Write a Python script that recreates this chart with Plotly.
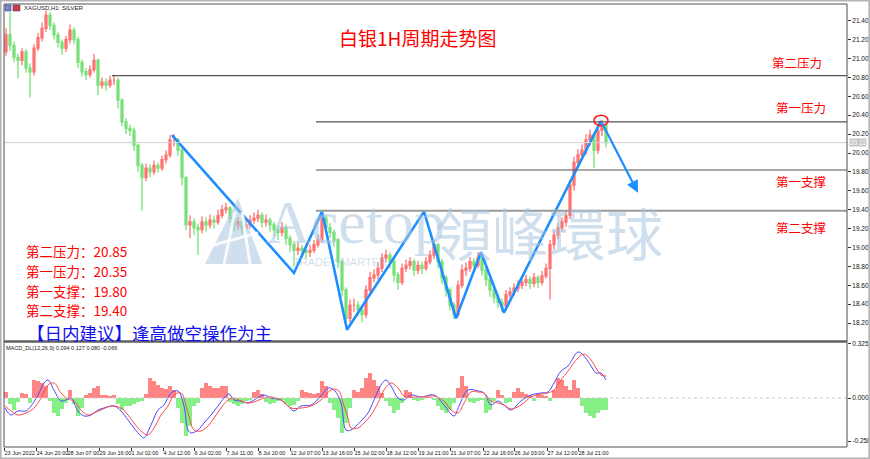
import plotly.graph_objects as go

# ---------------- data ----------------
first_open = 21.07
closes = [21.25, 21.14, 21.01, 20.98, 21.07, 20.90, 20.86, 21.11, 21.22, 21.32,
          21.46, 21.35, 21.25, 21.17, 21.11, 21.20, 21.30, 21.20, 20.96, 20.86,
          20.83, 20.88, 20.98, 20.72, 20.75, 20.72, 20.77, 20.77, 20.56, 20.33,
          20.26, 20.24, 20.08, 19.87, 19.74, 19.84, 19.80, 19.87, 19.84, 19.93,
          19.98, 20.14, 20.14, 20.03, 19.74, 19.24, 19.27, 19.21, 19.19, 19.27,
          19.24, 19.29, 19.27, 19.34, 19.40, 19.42, 19.31, 19.24, 19.27, 19.21,
          19.24, 19.29, 19.31, 19.34, 19.27, 19.29, 19.24, 19.19, 19.16, 19.21,
          19.10, 19.03, 18.97, 18.99, 18.97, 18.95, 18.97, 19.03, 19.08, 19.31,
          19.21, 19.16, 19.08, 18.85, 18.55, 18.25, 18.39, 18.39, 18.34, 18.29,
          18.55, 18.68, 18.71, 18.78, 18.89, 18.92, 18.85, 18.71, 18.63, 18.78,
          18.81, 18.85, 18.76, 18.81, 18.78, 18.85, 18.92, 19.03, 18.85, 18.68,
          18.55, 18.39, 18.29, 18.60, 18.76, 18.78, 18.85, 18.81, 18.89, 18.76,
          18.66, 18.55, 18.47, 18.42, 18.38, 18.50, 18.53, 18.57, 18.60, 18.63,
          18.66, 18.62, 18.68, 18.63, 18.70, 18.78, 19.03, 19.13, 19.21, 19.27,
          19.34, 19.66, 19.90, 19.98, 20.03, 20.14, 20.19, 20.03, 20.24, 20.30,
          20.11]
highs = [21.32, 21.49, 21.18, 21.05, 21.11, 21.10, 20.95, 21.15, 21.27, 21.38,
         21.51, 21.49, 21.38, 21.28, 21.20, 21.24, 21.36, 21.33, 21.23, 20.99,
         20.90, 20.93, 21.05, 21.00, 20.80, 20.79, 20.82, 20.83, 20.80, 20.58,
         20.37, 20.30, 20.27, 20.10, 19.90, 19.89, 19.88, 19.92, 19.90, 19.97,
         20.03, 20.19, 20.20, 20.16, 20.06, 19.76, 19.34, 19.31, 19.25, 19.33,
         19.32, 19.35, 19.33, 19.40, 19.45, 19.47, 19.44, 19.34, 19.32, 19.30,
         19.30, 19.34, 19.37, 19.40, 19.37, 19.35, 19.32, 19.27, 19.23, 19.27,
         19.24, 19.13, 19.06, 19.05, 19.03, 19.01, 19.03, 19.08, 19.14, 19.38,
         19.34, 19.26, 19.19, 19.10, 18.88, 18.58, 18.45, 18.46, 18.43, 18.38,
         18.60, 18.74, 18.77, 18.84, 18.94, 18.98, 18.95, 18.88, 18.74, 18.83,
         18.87, 18.90, 18.88, 18.86, 18.85, 18.90, 18.97, 19.08, 19.05, 18.88,
         18.71, 18.58, 18.42, 18.65, 18.82, 18.84, 18.90, 18.89, 18.95, 18.92,
         18.79, 18.69, 18.58, 18.51, 18.46, 18.55, 18.58, 18.62, 18.65, 18.68,
         18.71, 18.69, 18.73, 18.71, 18.75, 18.83, 19.08, 19.18, 19.26, 19.32,
         19.39, 19.72, 19.96, 20.04, 20.09, 20.20, 20.25, 20.22, 20.29, 20.35,
         20.32]
lows = [21.03, 21.08, 20.96, 20.79, 20.93, 20.85, 20.59, 20.82, 21.08, 21.18,
        21.28, 21.30, 21.20, 21.12, 21.04, 21.07, 21.16, 21.15, 20.90, 20.81,
        20.77, 20.80, 20.85, 20.61, 20.68, 20.66, 20.69, 20.72, 20.47, 20.28,
        20.20, 20.18, 20.02, 19.80, 19.39, 19.70, 19.74, 19.77, 19.79, 19.81,
        19.89, 19.95, 20.07, 19.97, 19.66, 19.18, 19.10, 19.13, 18.92, 19.15,
        19.17, 19.20, 19.20, 19.24, 19.31, 19.36, 19.26, 19.17, 19.19, 19.14,
        19.17, 19.20, 19.25, 19.27, 19.21, 19.22, 19.17, 19.12, 19.08, 19.12,
        19.03, 18.95, 18.80, 18.92, 18.90, 18.88, 18.90, 18.94, 19.00, 19.05,
        19.15, 19.10, 19.01, 18.78, 18.48, 18.16, 18.20, 18.32, 18.27, 18.21,
        18.25, 18.50, 18.63, 18.66, 18.74, 18.84, 18.78, 18.64, 18.55, 18.60,
        18.74, 18.77, 18.70, 18.72, 18.72, 18.75, 18.82, 18.88, 18.78, 18.61,
        18.48, 18.33, 18.24, 18.26, 18.57, 18.70, 18.74, 18.75, 18.78, 18.70,
        18.59, 18.48, 18.41, 18.36, 18.32, 18.35, 18.46, 18.49, 18.53, 18.56,
        18.59, 18.56, 18.58, 18.57, 18.60, 18.67, 18.45, 18.98, 19.09, 19.17,
        19.22, 19.30, 19.60, 19.85, 19.93, 19.98, 20.08, 19.84, 19.99, 20.18,
        20.06]

hist = [0.036, -0.036, -0.072, -0.024, 0.030, 0.024, -0.030, 0.108, 0.102, 0.090,
        0.072, -0.018, -0.090, -0.108, -0.066, -0.030, 0.048, -0.036, -0.108, -0.060,
        0.018, 0.030, 0.060, 0.072, 0.018, 0.018, 0.012, 0.018, -0.036, -0.072,
        -0.048, -0.048, -0.036, -0.024, -0.018, 0.024, 0.120, 0.102, 0.078, 0.060,
        0.054, 0.072, 0.048, -0.060, -0.150, -0.228, -0.168, -0.048, -0.030, 0.060,
        0.090, 0.072, 0.060, 0.060, 0.072, 0.072, -0.024, -0.036, -0.048, -0.036,
        -0.018, -0.012, 0.036, 0.048, 0.024, -0.024, -0.036, -0.030, -0.018, -0.012,
        -0.036, -0.048, -0.042, -0.018, 0.048, 0.036, 0.030, 0.024, 0.030, 0.102,
        0.072, -0.030, -0.072, -0.120, -0.210, -0.150, -0.060, 0.048, 0.036, 0.060,
        0.120, 0.150, 0.108, 0.072, 0.030, -0.018, -0.048, -0.090, -0.072, -0.030,
        0.048, 0.036, -0.012, -0.018, -0.012, 0.006, 0.006, -0.012, -0.048, -0.072,
        -0.090, -0.072, -0.030, 0.060, 0.132, 0.072, -0.024, -0.030, -0.018, -0.012,
        -0.090, -0.072, -0.018, 0.048, 0.018, -0.030, -0.024, 0.036, 0.060, 0.036,
        0.024, 0.018, -0.018, 0.024, 0.018, 0.012, -0.018, 0.048, 0.120, 0.108,
        0.072, 0.048, 0.108, 0.060, -0.048, -0.090, -0.108, -0.120, -0.090, -0.072,
        -0.072]

macd_x = [4, 10, 17, 25, 30, 37, 43, 47, 53, 60, 67, 70, 77, 83, 90, 97, 103, 113, 120, 127,
          133, 140, 143, 150, 157, 163, 170, 177, 183, 187, 190, 197, 203, 210, 217, 223, 228, 233, 240, 247,
          253, 263, 270, 280, 287, 293, 300, 310, 320, 327, 333, 340, 345, 350, 360, 367, 373, 380, 385, 390,
          397, 403, 410, 420, 433, 443, 453, 458, 467, 477, 483, 490, 497, 503, 510, 520, 530, 540, 547, 553,
          560, 567, 577, 583, 590, 595, 600, 605]
macd_main = [-0.060, -0.102, -0.078, -0.078, -0.048, 0.018, 0.090, 0.108, 0.048, -0.018,
             -0.006, 0.0, -0.078, -0.108, -0.102, -0.072, -0.060, -0.048, -0.078, -0.132,
             -0.180, -0.228, -0.240, -0.162, -0.072, -0.042, 0.030, 0.042, -0.048, -0.192,
             -0.210, -0.192, -0.150, -0.102, -0.048, 0.0, 0.024, -0.012, -0.018, -0.030,
             -0.012, 0.018, 0.0, -0.012, -0.048, -0.078, -0.048, -0.042, 0.012, 0.060,
             0.048, -0.030, -0.192, -0.192, -0.138, -0.090, -0.012, 0.078, 0.108, 0.072,
             0.0, -0.012, 0.018, 0.006, 0.018, -0.042, -0.108, -0.048, 0.048, 0.042,
             0.030, -0.042, -0.018, -0.042, -0.072, -0.018, 0.018, 0.030, 0.036, 0.090,
             0.162, 0.192, 0.276, 0.252, 0.192, 0.150, 0.150, 0.108]
signal_x = [4, 10, 17, 25, 33, 40, 47, 53, 60, 67, 73, 80, 87, 93, 100, 110, 120, 127, 133, 140,
            147, 153, 160, 167, 173, 180, 187, 193, 200, 207, 213, 220, 227, 233, 240, 247, 253, 263, 270, 280,
            290, 300, 310, 320, 330, 337, 343, 347, 350, 357, 363, 370, 377, 383, 390, 397, 403, 410, 420, 433,
            443, 450, 457, 463, 470, 477, 483, 490, 497, 503, 510, 520, 530, 540, 547, 553, 560, 567, 577, 583,
            590, 595, 600, 605]
signal_vals = [-0.048, -0.078, -0.102, -0.090, -0.060, 0.0, 0.078, 0.090, 0.030, -0.006,
               -0.018, -0.072, -0.102, -0.090, -0.072, -0.048, -0.060, -0.102, -0.150, -0.198,
               -0.222, -0.180, -0.102, -0.048, 0.018, 0.030, -0.090, -0.192, -0.198, -0.168,
               -0.120, -0.060, -0.012, 0.0, -0.018, -0.030, -0.024, 0.0, 0.006, -0.012,
               -0.060, -0.060, -0.048, -0.012, 0.048, 0.048, -0.048, -0.120, -0.180, -0.180,
               -0.150, -0.102, -0.030, 0.048, 0.090, 0.060, 0.012, 0.006, 0.006, 0.012,
               -0.018, -0.072, -0.090, -0.030, 0.036, 0.036, 0.030, -0.018, -0.030, -0.042,
               -0.066, -0.042, 0.006, 0.024, 0.030, 0.048, 0.108, 0.162, 0.240, 0.264,
               0.228, 0.180, 0.138, 0.132]

tick_pos = [3, 35, 66, 98, 130, 162, 193, 225, 257, 289, 321, 353, 385, 417, 449, 482, 513, 546, 577]
tick_labels = ["23 Jun 2022", "24 Jun 20:00", "28 Jun 07:00", "29 Jun 16:00", "1 Jul 02:00",
               "4 Jul 12:00", "6 Jul 02:00", "7 Jul 11:00", "8 Jul 20:00", "12 Jul 07:00",
               "13 Jul 16:00", "15 Jul 02:00", "18 Jul 12:00", "19 Jul 21:00", "21 Jul 07:00",
               "22 Jul 16:00", "26 Jul 03:00", "27 Jul 12:00", "28 Jul 21:00"]

price_ticks = [18.2, 18.4, 18.6, 18.8, 19.0, 19.2, 19.4, 19.6, 19.8, 20.0, 20.2, 20.4, 20.6, 20.8, 21.0, 21.2, 21.4]
macd_ticks = [0.325, 0.0, -0.258]
macd_tick_labels = ["0.325", "0.000", "-0.258"]

zig_x = [171, 293, 321, 346, 423, 455, 480, 503, 600]
zig_y = [20.19, 18.73, 19.38, 18.13, 19.38, 18.25, 18.95, 18.31, 20.34]
arrow_end_x = 637
arrow_end_y = 19.58

level_prices = [20.82, 20.33, 19.82, 19.39]
level_start = [111, 315, 315, 315]
level_labels = ["第二压力", "第一压力", "第一支撑", "第二支撑"]
summary_values = ["20.85", "20.35", "19.80", "19.40"]
bid_price = 20.11

title_text = "白银1H周期走势图"
advice_text = "【日内建议】逢高做空操作为主"

# ---------------- geometry helpers ----------------
W, H = 870, 459
L, R, T, B = 4, 847, 4, 447


def PX(x):
    return (x - L) / (R - L)


def PY(y):
    return (B - y) / (B - T)


bar_x = [5 + 4 * i for i in range(len(closes))]
opens = [first_open] + closes[:-1]

fig = go.Figure()

fig.add_trace(go.Candlestick(
    x=bar_x, open=opens, high=highs, low=lows, close=closes,
    increasing=dict(line=dict(color="#ff7272", width=1.3), fillcolor="#ff7272"),
    decreasing=dict(line=dict(color="#78e078", width=1.3), fillcolor="#78e078"),
    whiskerwidth=0, hoverinfo="skip", xaxis="x", yaxis="y"))

fig.add_trace(go.Scatter(x=zig_x, y=zig_y, mode="lines",
                         line=dict(color="#1e8fff", width=2.6),
                         hoverinfo="skip", xaxis="x", yaxis="y"))

fig.add_trace(go.Bar(x=bar_x, y=hist, width=4,
                     marker=dict(color=["#ff8484" if v >= 0 else "#86f086" for v in hist],
                                 line=dict(width=0)),
                     hoverinfo="skip", xaxis="x", yaxis="y2"))
fig.add_trace(go.Scatter(x=macd_x, y=macd_main, mode="lines", line=dict(color="#4a4aff", width=1),
                         line_shape="spline", hoverinfo="skip", xaxis="x", yaxis="y2"))
fig.add_trace(go.Scatter(x=signal_x, y=signal_vals, mode="lines", line=dict(color="#ff4a4a", width=1),
                         line_shape="spline", hoverinfo="skip", xaxis="x", yaxis="y2"))

shapes = []
ann = []

# watermark logo
wm = "rgba(170,196,222,0.55)"
shapes.append(dict(type="path", xref="paper", yref="paper", layer="above",
                   path=f"M {PX(205)},{PY(264)} L {PX(238)},{PY(198)} L {PX(262)},{PY(264)} Z",
                   fillcolor=wm, line=dict(width=0)))
for (xa, ya, xb, yb) in [(235, 212, 224, 264), (242, 212, 250, 264), (206, 247, 258, 233)]:
    shapes.append(dict(type="line", xref="paper", yref="paper", layer="above",
                       x0=PX(xa), y0=PY(ya), x1=PX(xb), y1=PY(yb),
                       line=dict(color="rgba(255,255,255,0.85)", width=3)))
ann.append(dict(text="Acetop", xref="paper", yref="paper", x=PX(355), y=PY(222),
                xanchor="center", yanchor="middle", showarrow=False,
                font=dict(family="Liberation Serif", size=62, color=wm)))
ann.append(dict(text="TRADE SMARTER", xref="paper", yref="paper", x=PX(340), y=PY(262),
                xanchor="center", yanchor="middle", showarrow=False,
                font=dict(family="Liberation Sans", size=11, color=wm)))
ann.append(dict(text="領峰環球", xref="paper", yref="paper", x=PX(549), y=PY(231),
                xanchor="center", yanchor="middle", showarrow=False,
                font=dict(family="Noto Sans CJK TC", size=57, color=wm)))

# level lines
for i, (p, xs) in enumerate(zip(level_prices, level_start)):
    last = i == len(level_prices) - 1
    shapes.append(dict(type="line", xref="x", yref="y", x0=xs, x1=846, y0=p, y1=p,
                       line=dict(color="#9a9a9a" if last else "#555555", width=2 if last else 1.2)))
# bid line
shapes.append(dict(type="line", xref="x", yref="y", x0=3, x1=846, y0=bid_price, y1=bid_price,
                   line=dict(color="#cfcfcf", width=1)))
# macd zero line
shapes.append(dict(type="line", xref="x", yref="y2", x0=3, x1=846, y0=0, y1=0,
                   line=dict(color="#c8c8c8", width=1, dash="dot")))
# red circle at peak
shapes.append(dict(type="circle", xref="x", yref="y", x0=593, x1=607, y0=20.29, y1=20.40,
                   line=dict(color="#ff1a1a", width=1.6)))
# frames
shapes.append(dict(type="rect", xref="paper", yref="paper", x0=0, x1=1, y0=0, y1=1,
                   line=dict(color="#505050", width=1)))
shapes.append(dict(type="line", xref="paper", yref="paper", x0=0, x1=1, y0=PY(341.5), y1=PY(341.5),
                   line=dict(color="#606060", width=2.5)))
shapes.append(dict(type="rect", xref="paper", yref="paper", x0=PX(0.8), x1=PX(869.2),
                   y0=PY(458.2), y1=PY(0.8), line=dict(color="#b4b4b4", width=1.6)))
# header icons
shapes.append(dict(type="rect", xref="paper", yref="paper", x0=PX(5), x1=PX(11), y0=PY(11), y1=PY(5),
                   fillcolor="#7d86c8", line=dict(color="#3c3c8c", width=0.6)))
shapes.append(dict(type="rect", xref="paper", yref="paper", x0=PX(13), x1=PX(20), y0=PY(11), y1=PY(5),
                   fillcolor="#d23c3c", line=dict(color="#3c3c8c", width=0.6)))

# arrow on the last zigzag leg
ann.append(dict(x=arrow_end_x, y=arrow_end_y, ax=zig_x[-1], ay=zig_y[-1], xref="x", yref="y",
                axref="x", ayref="y", showarrow=True, arrowhead=2, arrowsize=1.1, arrowwidth=2.2,
                arrowcolor="#1e8fff", text=""))

# texts
ann.append(dict(text="XAGUSD,H1: SILVER", xref="paper", yref="paper", x=PX(22), y=PY(8),
                xanchor="left", yanchor="middle", showarrow=False,
                font=dict(family="Liberation Sans", size=6, color="#222222")))
ann.append(dict(text="MACD_DL(12,26,9) 0.094 0.127 0.080 -0.066", xref="paper", yref="paper",
                x=PX(4), y=PY(348), xanchor="left", yanchor="middle", showarrow=False,
                font=dict(family="Liberation Sans", size=5.5, color="#222222")))
ann.append(dict(text=title_text, xref="paper", yref="paper", x=PX(417), y=PY(37),
                xanchor="center", yanchor="middle", showarrow=False,
                font=dict(family="Noto Sans CJK SC", size=19, color="#ff0000")))
right_label_pos = [(797, 62), (801, 108), (801, 181), (801, 227)]
for lab, (lx, ly) in zip(level_labels, right_label_pos):
    ann.append(dict(text=lab, xref="paper", yref="paper", x=PX(lx), y=PY(ly),
                    xanchor="center", yanchor="middle", showarrow=False,
                    font=dict(family="Noto Sans CJK SC", size=12.5, color="#ff0000")))
left_rows_y = [251, 271, 291, 310]
for lab, val, ly in zip(level_labels, summary_values, left_rows_y):
    ann.append(dict(text=f"{lab}：{val}", xref="paper", yref="paper", x=PX(24), y=PY(ly),
                    xanchor="left", yanchor="middle", showarrow=False,
                    font=dict(family="Noto Sans CJK SC", size=13.5, color="#ff0000")))
ann.append(dict(text=advice_text, xref="paper", yref="paper", x=PX(274), y=PY(332.5),
                xanchor="right", yanchor="middle", showarrow=False,
                font=dict(family="Noto Sans CJK SC", size=17.5, color="#1010ee")))
# bid price label
ann.append(dict(text=f"{bid_price:.2f}", xref="paper", yref="y", x=PX(849), y=bid_price,
                xanchor="left", yanchor="middle", showarrow=False, bgcolor="#c4c4c4",
                borderpad=0, font=dict(family="Liberation Sans", size=6.5, color="white")))

axis_font = dict(family="Liberation Sans", size=6.5, color="#111111")
x_font = dict(family="Liberation Sans Narrow, Liberation Sans", size=5.5, color="#111111")
fig.update_layout(
    width=W, height=H, margin=dict(l=L, r=W - R, t=T, b=H - B, autoexpand=False),
    paper_bgcolor="white", plot_bgcolor="white", showlegend=False, bargap=0,
    shapes=shapes, annotations=ann,
    xaxis=dict(domain=[0, 1], anchor="y2", range=[3, 846], tickvals=tick_pos, ticktext=tick_labels,
               tickangle=0, automargin=False,
               ticks="outside", ticklen=3, tickcolor="#333333", tickfont=x_font,
               ticklabelposition="outside right", showgrid=False, zeroline=False,
               showline=False, rangeslider=dict(visible=False), fixedrange=True),
    yaxis=dict(domain=[PY(340), 1], anchor="x", side="right", range=[18.021, 21.577],
               automargin=False,
               tickvals=price_ticks, tickformat=".2f", ticks="outside", ticklen=3,
               tickcolor="#333333", tickfont=axis_font, showgrid=False, zeroline=False,
               showline=False),
    yaxis2=dict(domain=[0, PY(343)], anchor="x", side="right", range=[-0.294, 0.330],
                automargin=False,
                tickvals=macd_ticks, ticktext=macd_tick_labels, ticks="outside", ticklen=3,
                tickcolor="#333333", tickfont=axis_font, showgrid=False, zeroline=False,
                showline=False),
)

fig.write_html("out.html")
